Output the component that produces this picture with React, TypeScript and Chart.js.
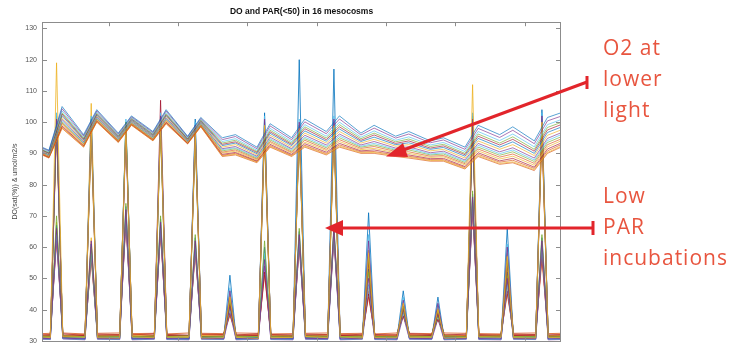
import React, { useEffect, useRef } from "react";
import { Chart, registerables } from "chart.js";

Chart.register(...registerables);

// ---------- axis / tick data ----------
const yTicks = [30, 40, 50, 60, 70, 80, 90, 100, 110, 120, 130];
const xTicks = [2, 4, 6, 8, 10, 12, 14];
const xMin = 0.08;
const xMax = 15.05;
const yMin = 30;
const yMax = 132;

// ---------- DO (dissolved oxygen, % sat) ----------
const doTimes = [0.08, 0.28, 0.66, 1.28, 1.66, 2.28, 2.66, 3.28, 3.66, 4.28, 4.66, 5.28, 5.66, 6.28, 6.66, 7.28, 7.66, 8.28, 8.66, 9.28, 9.66, 10.28, 10.66, 11.28, 11.66, 12.28, 12.66, 13.28, 13.66, 14.28, 14.66, 15.05];

const do01 = [92, 91, 105, 96, 104, 96.5, 102, 97, 104, 95.5, 101.5, 95, 96, 92, 99.5, 95, 101, 97, 102, 96.5, 99, 95.5, 97, 94, 95, 92, 99, 96, 98.5, 94, 101.5, 103];
const do02 = [91.8, 90.8, 104.3, 95.6, 103.6, 96.2, 101.7, 96.7, 103.6, 95.3, 101.2, 94.4, 95.4, 91.5, 98.8, 94.4, 100.1, 96.3, 101, 95.9, 98.1, 94.9, 96.2, 93.4, 94.3, 91.3, 98, 95.1, 97.4, 93.1, 100.4, 101.9];
const do03 = [91.5, 90.5, 103.6, 95.2, 103.2, 95.9, 101.4, 96.4, 103.1, 95, 100.9, 93.8, 94.7, 91, 98, 93.8, 99.2, 95.5, 100, 95.2, 97.2, 94.2, 95.3, 92.7, 93.5, 90.6, 97, 94.1, 96.2, 92.1, 99.2, 100.8];
const do04 = [91.3, 90.3, 103, 94.9, 102.9, 95.7, 101.2, 96.2, 102.7, 94.8, 100.7, 93.3, 94.2, 90.6, 97.4, 93.3, 98.5, 94.9, 99.2, 94.7, 96.5, 93.7, 94.6, 92.2, 92.9, 90, 96.2, 93.3, 95.3, 91.3, 98.3, 99.9];
const do05 = [91.1, 90.1, 102.6, 94.6, 102.6, 95.5, 101, 96, 102.4, 94.6, 100.5, 92.9, 93.7, 90.3, 96.9, 92.9, 97.9, 94.4, 98.5, 94.2, 95.9, 93.2, 94, 91.7, 92.4, 89.6, 95.5, 92.7, 94.5, 90.7, 97.5, 99.2];
const do06 = [91, 90, 102.1, 94.3, 102.3, 95.2, 100.7, 95.7, 102.1, 94.5, 100.2, 92.5, 93.3, 89.9, 96.4, 92.5, 97.2, 93.9, 97.8, 93.8, 95.2, 92.8, 93.4, 91.3, 91.9, 89.1, 94.8, 92, 93.7, 90, 96.7, 98.4];
const do07 = [90.8, 89.8, 101.5, 94, 102, 95, 100.5, 95.5, 101.8, 94.3, 100, 92, 92.8, 89.5, 95.8, 92, 96.5, 93.3, 97, 93.3, 94.5, 92.3, 92.8, 90.8, 91.3, 88.5, 94, 91.3, 92.8, 89.3, 95.8, 97.5];
const do08 = [90.6, 89.6, 100.9, 93.7, 101.7, 94.8, 100.3, 95.3, 101.4, 94.1, 99.8, 91.5, 92.2, 89.1, 95.2, 91.5, 95.8, 92.7, 96.2, 92.7, 93.8, 91.7, 92.1, 90.2, 90.7, 87.9, 93.2, 90.5, 91.8, 88.5, 94.8, 96.6];
const do09 = [90.4, 89.4, 100.5, 93.4, 101.4, 94.6, 100.1, 95.1, 101.1, 93.9, 99.6, 91.2, 91.8, 88.8, 94.7, 91.2, 95.2, 92.2, 95.6, 92.3, 93.2, 91.3, 91.6, 89.8, 90.2, 87.5, 92.6, 89.9, 91.1, 87.9, 94.1, 96];
const do10 = [90.3, 89.3, 100.1, 93.2, 101.2, 94.4, 99.9, 94.9, 100.9, 93.8, 99.4, 90.8, 91.5, 88.5, 94.3, 90.8, 94.7, 91.8, 95, 92, 92.7, 91, 91.1, 89.5, 89.8, 87.1, 92, 89.4, 90.5, 87.4, 93.5, 95.3];
const do11 = [90.1, 89.1, 99.7, 93, 101, 94.2, 99.7, 94.7, 100.6, 93.6, 99.2, 90.4, 91.1, 88.2, 93.8, 90.4, 94.2, 91.3, 94.4, 91.6, 92.2, 90.6, 90.5, 89.1, 89.3, 86.7, 91.4, 88.8, 89.8, 86.8, 92.8, 94.6];
const do12 = [90, 89, 99.3, 92.7, 100.7, 94, 99.5, 94.5, 100.3, 93.5, 99, 90.1, 90.7, 87.9, 93.4, 90.1, 93.6, 90.9, 93.8, 91.2, 91.6, 90.2, 90, 88.7, 88.9, 86.3, 90.8, 88.2, 89.1, 86.2, 92.1, 94];
const do13 = [89.8, 88.8, 98.8, 92.5, 100.5, 93.9, 99.4, 94.4, 100, 93.3, 98.9, 89.7, 90.3, 87.6, 92.9, 89.7, 93.1, 90.4, 93.2, 90.8, 91.1, 89.8, 89.5, 88.3, 88.4, 85.8, 90.2, 87.6, 88.4, 85.6, 91.4, 93.3];
const do14 = [89.7, 88.7, 98.5, 92.3, 100.3, 93.7, 99.2, 94.2, 99.8, 93.2, 98.7, 89.4, 90, 87.4, 92.5, 89.4, 92.6, 90, 92.7, 90.5, 90.6, 89.5, 89.1, 88, 88, 85.5, 89.7, 87.2, 87.8, 85.2, 90.8, 92.8];
const do15 = [89.6, 88.6, 98.2, 92.1, 100.1, 93.6, 99.1, 94.1, 99.6, 93.1, 98.6, 89.2, 89.7, 87.2, 92.2, 89.2, 92.3, 89.7, 92.3, 90.2, 90.3, 89.2, 88.8, 87.7, 87.7, 85.2, 89.3, 86.8, 87.3, 84.8, 90.3, 92.3];
const do16 = [89.5, 88.5, 98, 92, 100, 93.5, 99, 94, 99.5, 93, 98.5, 89, 89.5, 87, 92, 89, 92, 89.5, 92, 90, 90, 89, 88.5, 87.5, 87.5, 85, 89, 86.5, 87, 84.5, 90, 92];

// ---------- PAR (<50), same axis ----------
const parTimes = [0.08, 0.32, 0.5, 0.68, 1.32, 1.5, 1.68, 2.32, 2.5, 2.68, 3.32, 3.5, 3.68, 4.32, 4.5, 4.68, 5.32, 5.5, 5.68, 6.32, 6.5, 6.68, 7.32, 7.5, 7.68, 8.32, 8.5, 8.68, 9.32, 9.5, 9.68, 10.32, 10.5, 10.68, 11.32, 11.5, 11.68, 12.32, 12.5, 12.68, 13.32, 13.5, 13.68, 14.32, 14.5, 14.68, 15.05];

const par01 = [31.2, 31.0, 119, 31.3, 31.1, 99, 31.0, 30.9, 98, 31.2, 31.0, 100, 31.1, 31.2, 97, 30.9, 31.0, 44, 31.1, 30.8, 99, 31.0, 31.1, 98, 31.3, 31.0, 99, 31.2, 30.9, 58, 31.0, 31.0, 42, 31.1, 31.1, 40, 30.9, 31.0, 112, 31.2, 31.1, 57, 31.0, 30.9, 100, 31.1, 31.0];
const par02 = [30.8, 30.7, 101, 30.9, 30.6, 100, 30.8, 30.7, 97, 30.6, 30.8, 102, 30.7, 30.6, 99, 30.8, 30.7, 46, 30.6, 30.8, 101, 30.7, 30.6, 100, 30.8, 30.7, 101, 30.6, 30.8, 62, 30.7, 30.6, 43, 30.8, 30.7, 42, 30.6, 30.8, 101, 30.7, 30.6, 60, 30.8, 30.7, 102, 30.6, 30.7];
const par03 = [31.5, 31.4, 99, 31.6, 31.3, 97, 31.5, 31.4, 100, 31.3, 31.5, 98, 31.4, 31.6, 95, 31.3, 31.4, 43, 31.5, 31.3, 97, 31.4, 31.5, 97, 31.6, 31.4, 98, 31.3, 31.5, 57, 31.4, 31.3, 41, 31.5, 31.4, 40, 31.6, 31.3, 99, 31.4, 31.5, 56, 31.3, 31.4, 99, 31.5, 31.4];
const par04 = [30.6, 30.5, 103, 30.7, 30.4, 102, 30.6, 30.5, 101, 30.4, 30.6, 103, 30.5, 30.4, 100, 30.6, 30.5, 47, 30.4, 30.6, 102, 30.5, 30.4, 101, 30.6, 30.5, 102, 30.4, 30.6, 64, 30.5, 30.4, 44, 30.6, 30.5, 42, 30.4, 30.6, 103, 30.5, 30.4, 61, 30.6, 30.5, 103, 30.4, 30.5];
const par05 = [31.5, 31.6, 100, 31.4, 31.7, 98, 31.5, 31.6, 99, 31.4, 31.5, 107, 31.7, 31.6, 96, 31.4, 31.5, 42, 31.6, 31.7, 98, 31.5, 31.4, 99, 31.6, 31.5, 100, 31.7, 31.6, 56, 31.4, 31.5, 41, 31.6, 31.7, 39, 31.5, 31.4, 100, 31.6, 31.5, 55, 31.7, 31.6, 98, 31.4, 31.5];
const par06 = [31.0, 30.9, 102, 31.1, 30.8, 101, 31.0, 30.9, 100, 30.8, 31.0, 101, 30.9, 30.8, 101, 31.1, 30.9, 51, 30.8, 31.0, 103, 30.9, 30.8, 120, 31.0, 30.9, 117, 31.1, 30.8, 71, 30.9, 31.0, 46, 30.8, 30.9, 44, 31.0, 30.8, 102, 30.9, 31.0, 66, 30.8, 30.9, 104, 31.0, 30.9];
const par07 = [31.8, 31.9, 98, 31.7, 32.0, 96, 31.8, 31.9, 98, 32.1, 31.8, 99, 31.9, 31.7, 97, 32.0, 31.9, 44, 31.8, 32.0, 96, 31.9, 31.7, 98, 31.8, 31.9, 97, 32.0, 31.8, 55, 31.7, 31.9, 41, 32.0, 31.8, 40, 31.9, 31.7, 98, 31.8, 32.0, 54, 31.9, 31.8, 97, 31.7, 31.9];
const par08 = [31.3, 31.4, 100, 31.2, 31.5, 106, 31.3, 31.4, 99, 31.6, 31.3, 100, 31.4, 31.2, 98, 31.5, 31.4, 45, 31.3, 31.5, 100, 31.4, 31.2, 99, 31.3, 31.4, 99, 31.5, 31.3, 59, 31.2, 31.4, 42, 31.5, 31.3, 41, 31.4, 31.2, 101, 31.3, 31.5, 58, 31.4, 31.3, 101, 31.2, 31.4];
const par09 = [30.7, 30.6, 66, 30.8, 30.5, 62, 30.7, 30.6, 72, 30.5, 30.7, 68, 30.6, 30.5, 62, 30.7, 30.6, 41, 30.5, 30.7, 56, 30.6, 30.5, 64, 30.7, 30.6, 66, 30.5, 30.7, 50, 30.6, 30.5, 40, 30.7, 30.6, 39, 30.5, 30.7, 76, 30.6, 30.5, 50, 30.7, 30.6, 62, 30.5, 30.6];
const par10 = [31.2, 31.3, 70, 31.1, 31.4, 60, 31.2, 31.3, 74, 31.5, 31.2, 70, 31.3, 31.1, 64, 31.4, 31.3, 42, 31.2, 31.4, 62, 31.3, 31.1, 66, 31.2, 31.3, 67, 31.4, 31.2, 52, 31.1, 31.3, 40, 31.4, 31.2, 38, 31.3, 31.1, 78, 31.2, 31.4, 51, 31.3, 31.2, 64, 31.1, 31.3];
const par11 = [30.8, 30.9, 64, 31.0, 30.8, 58, 30.9, 31.0, 70, 30.8, 30.9, 66, 31.0, 30.8, 60, 30.9, 31.0, 40, 30.8, 30.9, 58, 31.0, 30.8, 62, 30.9, 31.0, 64, 30.8, 30.9, 48, 31.0, 30.8, 39, 30.9, 31.0, 38, 30.8, 30.9, 74, 31.0, 30.8, 48, 30.9, 31.0, 60, 30.8, 30.9];
const par12 = [31.9, 32.0, 62, 32.2, 31.8, 57, 32.1, 32.0, 68, 31.9, 32.2, 65, 32.0, 31.8, 59, 32.1, 32.0, 39, 31.9, 32.2, 52, 32.0, 31.9, 60, 32.1, 32.0, 63, 31.8, 32.1, 45, 32.0, 31.9, 38, 32.2, 32.0, 37, 31.9, 32.1, 72, 32.0, 31.8, 46, 32.1, 32.0, 58, 31.9, 32.0];
const par13 = [31.0, 31.1, 67, 31.2, 31.0, 61, 31.1, 31.2, 73, 31.0, 31.1, 69, 31.2, 31.0, 63, 31.1, 31.2, 43, 31.0, 31.1, 60, 31.2, 31.0, 65, 31.1, 31.2, 66, 31.0, 31.1, 53, 31.2, 31.0, 41, 31.1, 31.2, 39, 31.0, 31.1, 77, 31.2, 31.0, 52, 31.1, 31.2, 63, 31.0, 31.1];
const par14 = [32.3, 32.4, 63, 32.5, 32.2, 56, 32.4, 32.5, 69, 32.3, 32.4, 64, 32.2, 32.5, 58, 32.4, 32.3, 38, 32.5, 32.4, 51, 32.2, 32.3, 61, 32.4, 32.5, 64, 32.3, 32.4, 44, 32.2, 32.5, 38, 32.4, 32.3, 37, 32.5, 32.4, 73, 32.3, 32.2, 45, 32.4, 32.5, 56, 32.3, 32.4];
const par15 = [31.6, 31.7, 68, 31.8, 31.6, 63, 31.7, 31.8, 71, 31.6, 31.7, 67, 31.8, 31.6, 61, 31.7, 31.8, 40, 31.6, 31.7, 57, 31.8, 31.6, 63, 31.7, 31.8, 65, 31.6, 31.7, 47, 31.8, 31.6, 39, 31.7, 31.8, 40, 31.6, 31.7, 75, 31.8, 31.6, 47, 31.7, 31.8, 61, 31.6, 31.7];
const par16 = [30.5, 30.4, 65, 30.6, 30.3, 59, 30.5, 30.4, 70, 30.3, 30.5, 66, 30.4, 30.3, 60, 30.5, 30.4, 39, 30.3, 30.5, 54, 30.4, 30.3, 62, 30.5, 30.4, 63, 30.3, 30.5, 46, 30.4, 30.3, 38, 30.5, 30.4, 37, 30.3, 30.5, 74, 30.4, 30.3, 49, 30.5, 30.4, 59, 30.3, 30.4];

const doSeries = [do01, do02, do03, do04, do05, do06, do07, do08, do09, do10, do11, do12, do13, do14, do15, do16];
const parSeries = [par01, par02, par03, par04, par05, par06, par07, par08, par09, par10, par11, par12, par13, par14, par15, par16];

// MATLAB default line colours
const doColors = ["#0072BD", "#7E2F8E", "#4DBEEE", "#77AC30", "#A2142F", "#0072BD", "#EDB120", "#7E2F8E", "#4DBEEE", "#77AC30", "#D95319", "#EDB120", "#A2142F", "#D95319", "#EDB120", "#D95319"];
const parColors = ["#EDB120", "#7E2F8E", "#77AC30", "#4DBEEE", "#A2142F", "#0072BD", "#D95319", "#EDB120", "#7E2F8E", "#77AC30", "#4DBEEE", "#A2142F", "#0072BD", "#D95319", "#EDB120", "#7E2F8E"];

const titleText = "DO and PAR(<50) in 16 mesocosms";
const yTitle = "DO(sat(%)) & umol/m2/s";

function withAlpha(hex: string, a: number) {
  const r = parseInt(hex.slice(1, 3), 16);
  const g = parseInt(hex.slice(3, 5), 16);
  const b = parseInt(hex.slice(5, 7), 16);
  return `rgba(${r},${g},${b},${a})`;
}

const boxPlugin = {
  id: "matlabBox",
  afterDraw(chart: any) {
    const { ctx, chartArea: a, scales } = chart;
    ctx.save();
    ctx.strokeStyle = "#8c8c8c";
    ctx.lineWidth = 1;
    ctx.strokeRect(Math.round(a.left) + 0.5, Math.round(a.top) + 0.5, Math.round(a.right - a.left) - 1, Math.round(a.bottom - a.top));
    ctx.beginPath();
    for (const v of yTicks) {
      const y = Math.round(scales.y.getPixelForValue(v)) + 0.5;
      ctx.moveTo(a.left, y);
      ctx.lineTo(a.left + 5, y);
      ctx.moveTo(a.right - 5, y);
      ctx.lineTo(a.right, y);
    }
    for (const v of xTicks) {
      const x = Math.round(scales.x.getPixelForValue(v)) + 0.5;
      ctx.moveTo(x, a.top);
      ctx.lineTo(x, a.top + 4);
      ctx.moveTo(x, a.bottom);
      ctx.lineTo(x, a.bottom - 4);
    }
    ctx.stroke();
    ctx.restore();
  },
};

function ChartView() {
  const ref = useRef<HTMLCanvasElement | null>(null);
  useEffect(() => {
    if (!ref.current) return;
    const datasets: any[] = [];
    doSeries.forEach((s, i) => {
      datasets.push({
        label: `DO ${i + 1}`,
        data: s.map((v, k) => ({ x: doTimes[k], y: v })),
        borderColor: withAlpha(doColors[i], 0.65),
        borderWidth: 1,
        pointRadius: 0,
        tension: 0,
      });
    });
    parSeries.forEach((s, i) => {
      datasets.push({
        label: `PAR ${i + 1}`,
        data: s.map((v, k) => ({ x: parTimes[k], y: v })),
        borderColor: withAlpha(parColors[i], 0.8),
        borderWidth: 1,
        pointRadius: 0,
        tension: 0,
      });
    });
    const chart = new Chart(ref.current, {
      type: "line",
      data: { datasets },
      plugins: [boxPlugin],
      options: {
        animation: false,
        responsive: false,
        devicePixelRatio: 1,
        layout: { padding: { left: 0, right: 186, top: 0, bottom: 3 } },
        plugins: {
          legend: { display: false },
          tooltip: { enabled: false },
          title: {
            display: true,
            text: titleText,
            fullSize: false,
            color: "#111",
            font: { family: "Liberation Sans, Arial, sans-serif", size: 8.5, weight: "bold" },
            padding: { top: 7, bottom: 5 },
          },
        },
        scales: {
          x: {
            type: "linear",
            display: false,
            min: xMin,
            max: xMax,
          },
          y: {
            type: "linear",
            min: yMin,
            max: yMax,
            afterFit: (scale: any) => {
              scale.width = 42;
            },
            afterBuildTicks: (scale: any) => {
              scale.ticks = yTicks.map((v) => ({ value: v }));
            },
            grid: { display: false, drawTicks: false },
            border: { display: false },
            ticks: {
              color: "#555",
              padding: 5,
              font: { family: "Liberation Sans, Arial, sans-serif", size: 7 },
              callback: (v: any) => String(v),
            },
            title: {
              display: true,
              text: yTitle,
              color: "#444",
              font: { family: "Liberation Sans, Arial, sans-serif", size: 7 },
              padding: { top: 11, bottom: 0 },
            },
          },
        },
      },
    });
    return () => chart.destroy();
  }, []);
  return <canvas ref={ref} width={747} height={350} style={{ position: "absolute", left: 0, top: 0 }} />;
}

const annStyle: React.CSSProperties = {
  position: "absolute",
  left: 603,
  color: "#E8553F",
  fontFamily: "'Open Sans', Lato, sans-serif",
  fontSize: 21,
  lineHeight: "31px",
  letterSpacing: 1,
  whiteSpace: "nowrap",
};

export default function App() {
  return (
    <div style={{ position: "fixed", left: 0, top: 0, width: 747, height: 350, background: "#fff", overflow: "hidden" }}>
      <ChartView />
      <svg width={747} height={350} style={{ position: "absolute", left: 0, top: 0, pointerEvents: "none" }}>
        <g stroke="#E2252B" strokeWidth={3} fill="none">
          <line x1={587} y1={82} x2={398} y2={152} />
          <line x1={587} y1={76} x2={587} y2={89} />
          <line x1={593} y1={228} x2={340} y2={228} />
          <line x1={593} y1={221} x2={593} y2={235} />
        </g>
        <g fill="#E2252B">
          <polygon points="386,156.5 403,143 408,157" />
          <polygon points="325,228 343,220 343,236" />
        </g>
      </svg>
      <div style={{ ...annStyle, top: 32 }}>
        O2 at<br />lower<br />light
      </div>
      <div style={{ ...annStyle, top: 180 }}>
        Low<br />PAR<br />incubations
      </div>
    </div>
  );
}
